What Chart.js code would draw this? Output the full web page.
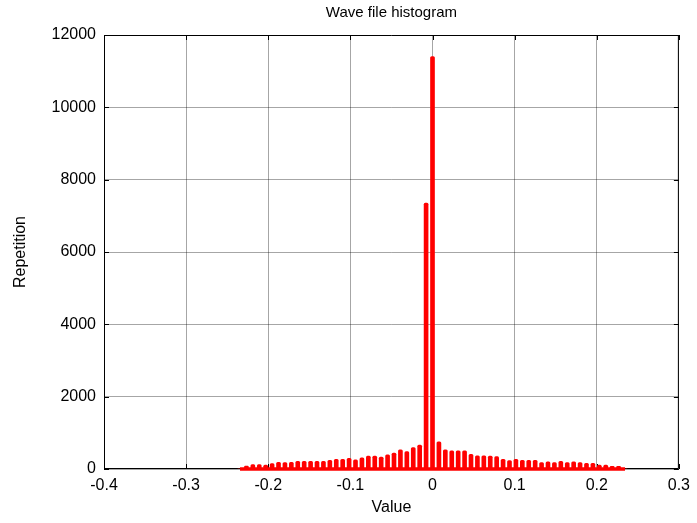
<!DOCTYPE html>
<html>
<head>
<meta charset="utf-8">
<script src="https://cdn.jsdelivr.net/npm/chart.js@4"></script>
<style>
  html, body { margin: 0; padding: 0; background: #fff; }
  #wrap { width: 697px; height: 523px; }
</style>
</head>
<body>
<div id="wrap"><canvas id="grafico"></canvas></div>
<script>
// niveis de amplitude (k/128) do arquivo wave de 8 bits
const niveis = [
  -30, -29, -28, -27, -26, -25, -24, -23, -22, -21, -20, -19, -18, -17, -16, -15,
  -14, -13, -12, -11, -10, -9, -8, -7, -6, -5, -4, -3, -2, -1, 0,
  1, 2, 3, 4, 5, 6, 7, 8, 9, 10, 11, 12, 13, 14, 15,
  16, 17, 18, 19, 20, 21, 22, 23, 24, 25, 26, 27, 28, 29, 30
];

// repeticoes
const repeticoes = [
  0, 80, 125, 125, 105, 150, 185, 180, 185, 215, 215, 215, 215, 215, 240, 265,
  265, 295, 255, 310, 360, 360, 330, 395, 440, 530, 485, 595, 660, 7350, 11400,
  750, 530, 505, 500, 500, 405, 365, 365, 355, 340, 265, 230, 265, 240, 240,
  240, 175, 195, 180, 215, 175, 195, 180, 160, 160, 110, 110, 75, 75, 0
];

const ticksX = [-0.4, -0.3, -0.2, -0.1, 0, 0.1, 0.2, 0.3];
const ticksY = [0, 2000, 4000, 6000, 8000, 10000, 12000];

const fonte = { family: 'Arial, "Liberation Sans", sans-serif', size: 16 };

// caixa preta e marcas de escala para dentro (estilo MATLAB)
const caixa = {
  id: 'caixa',
  beforeDatasetsDraw(chart) {
    const { ctx, chartArea: a, scales } = chart;
    ctx.save();
    ctx.strokeStyle = '#000';
    ctx.lineWidth = 1;
    ctx.beginPath();
    ctx.rect(a.left + 0.5, a.top + 0.5, a.right - a.left - 1, a.bottom - a.top - 1);
    ticksX.forEach(v => {
      const px = Math.round(scales.x.getPixelForValue(v)) + 0.5;
      ctx.moveTo(px, a.bottom); ctx.lineTo(px, a.bottom - 5);
      ctx.moveTo(px, a.top); ctx.lineTo(px, a.top + 5);
    });
    ticksY.forEach(v => {
      const py = Math.round(scales.y.getPixelForValue(v)) + 0.5;
      ctx.moveTo(a.left, py); ctx.lineTo(a.left + 5, py);
      ctx.moveTo(a.right, py); ctx.lineTo(a.right - 5, py);
    });
    ctx.stroke();
    ctx.restore();
  }
};

const dataHist = {
  datasets: [{
    type: 'bar',
    label: 'Repetition',
    backgroundColor: '#ff0000',
    borderWidth: 0,
    borderRadius: 1.5,
    barThickness: 4,
    data: niveis.map((k, i) => ({ x: k / 128, y: repeticoes[i] })),
  }, {
    type: 'line',
    label: 'base',
    borderColor: '#ff0000',
    borderWidth: 3.5,
    pointRadius: 0,
    clip: false,
    data: [
      { x: niveis[0] / 128, y: 0 },
      { x: niveis[niveis.length - 1] / 128, y: 0 }
    ],
  }]
};

const configHist = {
  type: 'bar',
  data: dataHist,
  options: {
    responsive: true,
    maintainAspectRatio: false,
    animation: false,
    layout: { padding: { left: 11, right: 14, top: 0, bottom: 6 } },
    plugins: {
      legend: { display: false },
      tooltip: { enabled: false },
      title: {
        display: true,
        fullSize: false,
        text: 'Wave file histogram',
        color: '#000',
        font: { ...fonte, size: 15, weight: 'normal' },
        padding: { top: 4, bottom: 13 }
      }
    },
    scales: {
      x: {
        type: 'linear',
        min: -0.4,
        max: 0.3,
        offset: false,
        afterBuildTicks: s => { s.ticks = ticksX.map(v => ({ value: v })); },
        afterFit: s => { s.height = 523 - 469 - 6; },
        grid: { color: 'rgba(0,0,0,0.35)', drawTicks: false, offset: false },
        border: { display: false },
        ticks: {
          color: '#000',
          font: fonte,
          padding: 7,
          maxRotation: 0,
          callback: v => (Math.abs(v) < 1e-9 ? '0' : v.toFixed(1))
        },
        title: { display: true, text: 'Value', color: '#000', font: fonte, padding: 0 }
      },
      y: {
        min: 0,
        max: 12000,
        afterBuildTicks: s => { s.ticks = ticksY.map(v => ({ value: v })); },
        afterFit: s => { s.width = 104 - 11; },
        grid: { color: 'rgba(0,0,0,0.35)', drawTicks: false },
        border: { display: false },
        ticks: { color: '#000', font: fonte, padding: 8, callback: v => String(v) },
        title: { display: true, text: 'Repetition', color: '#000', font: fonte, padding: 0 }
      }
    }
  },
  plugins: [caixa]
};

const grafico = new Chart(document.getElementById('grafico'), configHist);
</script>
</body>
</html>
